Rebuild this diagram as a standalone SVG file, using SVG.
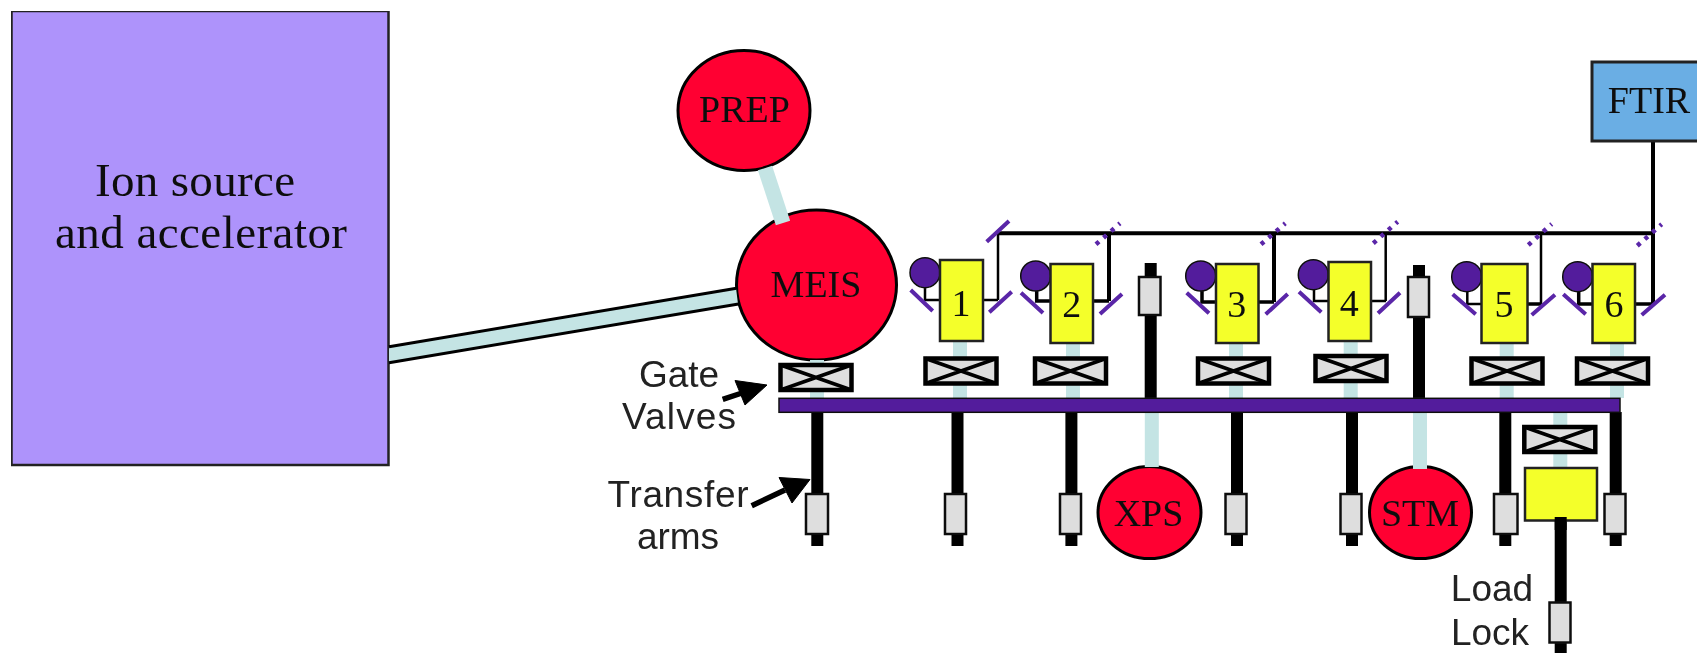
<svg xmlns="http://www.w3.org/2000/svg" width="1697" height="653" viewBox="0 0 1697 653">
<style>
text{fill:#111;text-anchor:middle}
.s{font-family:"Liberation Serif","Times New Roman",serif;font-size:38px}
.b{font-size:47px}
.a{font-family:"Liberation Sans",Arial,sans-serif;font-size:37px;fill:#222}
.red{fill:#ff0030;stroke:#000;stroke-width:3}
.yel{fill:#f4ff2b;stroke:#222;stroke-width:2.5}
.pur{fill:#521e9c;stroke:#111;stroke-width:1.5}
.grip{fill:#dedede;stroke:#111;stroke-width:2.5}
.vbox{fill:#dedede;stroke:#000;stroke-width:4.5}
.vx{stroke:#000;stroke-width:3.5;fill:none}
.beam{stroke:#c4e4e4;stroke-width:14;fill:none}
.arm{stroke:#000;stroke-width:12;fill:none}
.w{stroke:#000;stroke-width:4;fill:none}
.t{stroke:#000;stroke-width:2.5;fill:none}
.m{stroke:#5a25a8;stroke-width:4;fill:none}
.d{stroke:#5a25a8;stroke-width:4.5;fill:none;stroke-dasharray:4 6}
</style>
<defs>
<g id="valve"><rect class="vbox" x="2" y="2" width="71" height="25"/><path class="vx" d="M2 2L73 27M73 2L2 27"/></g>
<filter id="soft" x="0" y="0" width="100%" height="100%"><feGaussianBlur stdDeviation="0.55"/></filter>
</defs>
<rect width="1697" height="653" fill="#fff"/>
<g filter="url(#soft)">
<g id="ion-source">
<rect x="11.5" y="11" width="377" height="454" fill="#ae93fb" stroke="#222" stroke-width="2.5"/>
<text class="s b" x="195" y="196" textLength="200">Ion source</text>
<text class="s b" x="201" y="248" textLength="292">and accelerator</text>
</g>
<g id="prep"><ellipse class="red" cx="744" cy="110.5" rx="66" ry="60"/><text class="s" x="744.5" y="121.7">PREP</text></g>
<g id="meis"><ellipse class="red" cx="816.5" cy="285" rx="80" ry="75"/><text class="s" x="816" y="296.7">MEIS</text></g>
<g id="xps"><ellipse class="red" cx="1149.5" cy="512.5" rx="51.5" ry="46"/><text class="s" x="1148.5" y="525.7">XPS</text></g>
<g id="stm"><ellipse class="red" cx="1420.5" cy="512.5" rx="51" ry="46"/><text class="s" x="1420" y="525.7">STM</text></g>
<g id="connectors">
<polygon points="389,346.7 736,288.3 738,304 389,362.7" fill="#c4e4e4"/>
<path d="M389 346.7L736.5 288.3M389 362.7L738.5 304" stroke="#000" stroke-width="3" fill="none"/>
<path class="beam" d="M765 168L783 223" style="stroke-width:15"/>
<path class="beam" d="M817 360V398M960 341V398M1073 343V398M1236 343V398M1350.7 341V398M1506.7 343V398M1617 343V398M1560.3 412V468M1151.8 411V467M1420 411V469"/>
<path class="arm" d="M1150.7 263V398M1419 265V398M817.3 412V546M957.5 412V546M1071.4 412V546M1237 412V546M1352 412V546M1505.3 412V546M1615.7 412V546M1560.7 518V653"/>
<path class="w" d="M1653 141V304M998 233.3H1655M1109 233V301M1274 233V302"/>
<path class="t" d="M998 233V300M1385.7 233V301M1541 233V304"/>
<path class="t" d="M925 286V300H939M983 300H998M1314 288V301H1328M1371 301H1386M1467.3 290V304H1481"/>
<path class="w" style="stroke-width:3.5" d="M1036.7 290V301H1050M1093 301H1109M1202 290V302H1216M1258 302H1274M1527 304H1541M1578.7 290V304H1592M1635 304H1653"/>
<path d="M722.7 399.3L745 392M751.7 505.7L785 490" stroke="#000" stroke-width="5.5" fill="none"/>
<polygon points="767,385 735,380.5 745,405" stroke="#000"/>
<polygon points="810,479.5 779,477.5 792,503" stroke="#000"/>
</g>
<g id="mirrors">
<path class="m" d="M910.7 290L932.7 311M989.3 312.3L1011.7 291.7M986.7 241.7L1009 221"/>
<path class="m" d="M1021 292.7L1043 313M1100 314L1122 294"/>
<path class="d" d="M1096 244.3L1120 223.3"/>
<path class="m" d="M1186.7 292.7L1209 313.3M1265.7 314.3L1287.7 294"/>
<path class="d" d="M1261 244.3L1285.3 223.3"/>
<path class="m" d="M1299 291.7L1321.3 312.3M1378 313.3L1400 292.7"/>
<path class="d" d="M1373.3 243.3L1397.7 221.7"/>
<path class="m" d="M1452.7 294.3L1475.7 314.3M1531.7 315L1555 294.7"/>
<path class="d" d="M1528.3 245L1551.7 224"/>
<path class="m" d="M1563.3 294.3L1585.7 314.3M1641.7 315L1665 294.7"/>
<path class="d" d="M1637.3 245.7L1661.7 224.3"/>
</g>
<g id="transfer-bar"><rect class="pur" x="779" y="398.3" width="841" height="14"/></g>
<g id="ftir"><rect x="1592" y="62" width="110" height="79" fill="#6aaee4" stroke="#222" stroke-width="3"/><text class="s" x="1649" y="113">FTIR</text></g>
<g id="chamber-1"><circle class="pur" cx="925" cy="272.7" r="15"/><rect class="yel" x="940" y="260" width="43" height="81"/><text class="s" x="961" y="315.7">1</text></g>
<g id="chamber-2"><circle class="pur" cx="1035.7" cy="276" r="15"/><rect class="yel" x="1050.5" y="264" width="42.5" height="79"/><text class="s" x="1071.7" y="317">2</text></g>
<g id="chamber-3"><circle class="pur" cx="1200.7" cy="276" r="15"/><rect class="yel" x="1216" y="264" width="42.5" height="79"/><text class="s" x="1236.7" y="317">3</text></g>
<g id="chamber-4"><circle class="pur" cx="1313.3" cy="274.7" r="15"/><rect class="yel" x="1328.5" y="262" width="42.5" height="79"/><text class="s" x="1349.3" y="315.7">4</text></g>
<g id="chamber-5"><circle class="pur" cx="1466.7" cy="276.7" r="15"/><rect class="yel" x="1481.5" y="264" width="46" height="79"/><text class="s" x="1504" y="317">5</text></g>
<g id="chamber-6"><circle class="pur" cx="1577.7" cy="276.7" r="15"/><rect class="yel" x="1592.5" y="264" width="42.5" height="79"/><text class="s" x="1614" y="317">6</text></g>
<g id="gate-valves">
<use href="#valve" x="778.5" y="363"/>
<use href="#valve" x="923.5" y="356.5"/>
<use href="#valve" x="1033" y="356.5"/>
<use href="#valve" x="1196" y="356.5"/>
<use href="#valve" x="1313.5" y="354"/>
<use href="#valve" x="1469.5" y="356.5"/>
<use href="#valve" x="1575" y="356.5"/>
<use href="#valve" x="1522.3" y="425"/>
</g>
<g id="grippers">
<rect class="grip" x="1139" y="277" width="21.5" height="38"/>
<rect class="grip" x="1408" y="277" width="21" height="40"/>
<rect class="grip" x="806" y="494" width="22" height="40"/>
<rect class="grip" x="945" y="494" width="21" height="40"/>
<rect class="grip" x="1060" y="494" width="21" height="40"/>
<rect class="grip" x="1225.5" y="494" width="21" height="40"/>
<rect class="grip" x="1340.5" y="494" width="21" height="40"/>
<rect class="grip" x="1494" y="494" width="23.5" height="40"/>
<rect class="grip" x="1604.5" y="494" width="21" height="40"/>
<rect class="grip" x="1549.5" y="602.5" width="21" height="40"/>
</g>
<g id="load-lock"><rect class="yel" x="1525" y="468" width="72" height="52.5"/><path class="arm" d="M1560.7 517V530"/></g>
<g id="labels">
<text class="a" x="679" y="386.7">Gate</text>
<text class="a" x="679" y="429.3" textLength="114">Valves</text>
<text class="a" x="678" y="507.3" textLength="141">Transfer</text>
<text class="a" x="678" y="549">arms</text>
<text class="a" x="1492" y="601">Load</text>
<text class="a" x="1490" y="645.3">Lock</text>
</g>
</g>
</svg>
